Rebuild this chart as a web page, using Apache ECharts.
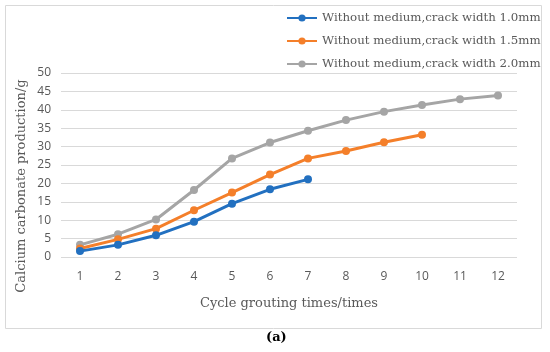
<!DOCTYPE html>
<html><head><meta charset="utf-8">
<script src="https://cdn.jsdelivr.net/npm/echarts@6/dist/echarts.min.js"></script>
<style>html,body{margin:0;padding:0;background:#fff}#c{width:550px;height:352px}</style>
</head><body><div id="c"></div>
<script>
var categories = ['1','2','3','4','5','6','7','8','9','10','11','12'];
var seriesNames = ['Without medium,crack width 1.0mm','Without medium,crack width 1.5mm','Without medium,crack width 2.0mm'];
var w10 = [1.6, 3.3, 5.9, 9.6, 14.5, 18.4, 21.1];
var w15 = [2.3, 4.8, 7.7, 12.7, 17.5, 22.4, 26.8, 28.8, 31.2, 33.2];
var w20 = [3.3, 6.2, 10.2, 18.2, 26.8, 31.1, 34.3, 37.2, 39.5, 41.3, 42.9, 43.9];
var colors = ['#2270c0', '#f47f2a', '#a5a5a5'];
var xTitle = 'Cycle grouting times/times';
var yTitle = 'Calcium carbonate production/g';
var caption = '(a)';

var chart = echarts.init(document.getElementById('c'), null, {renderer:'canvas'});
var mk = function(i, d){ return {
  name: seriesNames[i], type:'line', data:d, symbol:'circle', symbolSize:8,
  lineStyle:{width:3,color:colors[i]}, itemStyle:{color:colors[i]}, z: 3-i
};};
chart.setOption({
  animation:false,
  color: colors,
  grid:{left:61, right:33, top:73, bottom:95},
  legend:{
    orient:'vertical', left:286, top:12, padding:0, itemGap:11, itemWidth:30, itemHeight:9,
    textStyle:{fontFamily:'DejaVu Serif', fontSize:11.8, color:'#595959'},
    data: seriesNames
  },
  xAxis:{type:'category', data:categories, boundaryGap:true,
    axisLine:{show:false}, axisTick:{show:false},
    axisLabel:{color:'#595959', fontFamily:'Open Sans', fontSize:12, margin:14},
    name:xTitle, nameLocation:'middle', nameGap:40,
    nameTextStyle:{fontFamily:'DejaVu Serif', fontSize:13, color:'#595959'}
  },
  yAxis:{type:'value', min:0, max:50, interval:5,
    axisLine:{show:false}, axisTick:{show:false},
    axisLabel:{color:'#595959', fontFamily:'Open Sans', fontSize:12, margin:10},
    splitLine:{lineStyle:{color:'#d9d9d9', width:1}}
  },
  graphic:[
    {type:'rect', shape:{x:5.5,y:5.5,width:536,height:323}, style:{fill:'none', stroke:'#d9d9d9', lineWidth:1}, z:-10, silent:true},
    {type:'text', x:22, y:186, rotation:Math.PI/2, style:{text:yTitle, font:'13px "DejaVu Serif"', fill:'#595959', align:'center', verticalAlign:'middle'}},
    {type:'text', left:266, top:331, style:{text:caption, font:'bold 13px "DejaVu Serif"', fill:'#000'}}
  ],
  series:[mk(0,w10), mk(1,w15), mk(2,w20)]
});
</script></body></html>
